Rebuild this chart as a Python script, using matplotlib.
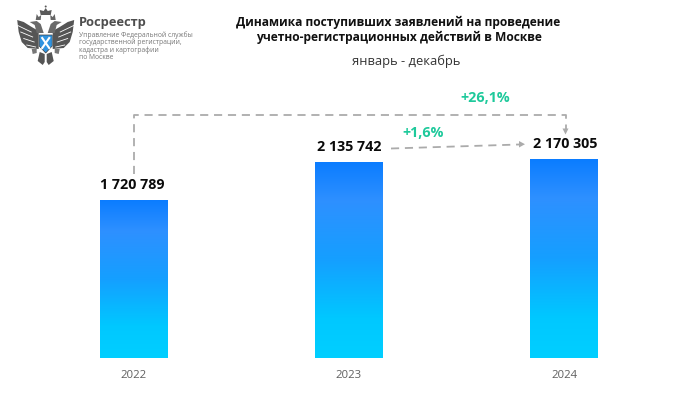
import matplotlib
matplotlib.use('agg')
import matplotlib.pyplot as plt
from matplotlib.colors import LinearSegmentedColormap
from matplotlib.patches import Polygon, Circle
import numpy as np

years = ['2022', '2023', '2024']
values = [1720789, 2135742, 2170305]
value_labels = ['1 720 789', '2 135 742', '2 170 305']
growth_labels = ['+26,1%', '+1,6%']
title_lines = ['Динамика поступивших заявлений на проведение',
               'учетно-регистрационных действий в Москве']
subtitle = 'январь - декабрь'
logo_name = 'Росреестр'
logo_lines = ['Управление Федеральной службы', 'государственной регистрации,',
              'кадастра и картографии', 'по Москве']

W, H = 698, 393
base_px = 358.5
px_per_value = 199.5 / 2170305
bar_pos = [133.5, 349, 564]
bar_w = 67.5

plt.rcParams['font.family'] = ['Open Sans', 'DejaVu Sans']
fig = plt.figure(figsize=(W / 100, H / 100), dpi=100, facecolor='white')

ax = fig.add_axes([0, (H - base_px) / H, 1, base_px / H])
ax.axis('off')

cmap = LinearSegmentedColormap.from_list('bars', [(0, '#00cfff'), (0.2, '#00c8ff'), (0.5, '#159fff'),
                                                  (0.8, '#2e90ff'), (1, '#0a7cff')])
grad = np.linspace(1, 0, 256).reshape(-1, 1)
bars = ax.bar(bar_pos, values, width=bar_w, color='none')
for b, v in zip(bars, values):
    im = ax.imshow(grad, cmap=cmap, aspect='auto', vmin=0, vmax=1, zorder=2,
                   extent=[b.get_x(), b.get_x() + b.get_width(), 0, v])
    im.set_clip_path(b)
ax.set_xlim(0, W)
ax.set_ylim(0, base_px / px_per_value)

# overlay in pixels for text and connectors
ov = fig.add_axes([0, 0, 1, 1], facecolor='none')
ov.set_xlim(0, W)
ov.set_ylim(H, 0)
ov.axis('off')

label_x = [132.5, 349, 565.5]
for x, lx, y, v, lab in zip(bar_pos, label_x, years, values, value_labels):
    top = base_px - v * px_per_value
    ov.text(lx, top - 15.5, lab, ha='center', va='center', fontsize=10.3, fontweight='bold', color='#0b0b0b')
    ov.text(x, 376, y, ha='center', va='center', fontsize=8.2, color='#5f5f5f')

dash = dict(color='#ababab', lw=1.3, dashes=(4.5, 3.2))
ov.plot([bar_pos[0], bar_pos[0], 565.5, 565.5], [174, 115, 115, 129], **dash)
ov.plot([391, 519], [148.5, 144.5], **dash)
ov.add_patch(Polygon([[562.5, 128.5], [568.5, 128.5], [565.5, 134.5]], color='#ababab', lw=0))
ov.add_patch(Polygon([[519, 141], [519, 147.5], [525, 144.2]], color='#ababab', lw=0))
ov.text(485.5, 98, growth_labels[0], ha='center', va='center', fontsize=10.3, fontweight='bold', color='#1ec99b')
ov.text(423, 133, growth_labels[1], ha='center', va='center', fontsize=10.3, fontweight='bold', color='#1ec99b')

ov.text(398.5, 22, title_lines[0], ha='center', va='center', fontsize=8.65, fontweight='bold', color='#111111')
ov.text(398.5, 37, title_lines[1], ha='center', va='center', fontsize=8.65, fontweight='bold', color='#111111')
ov.text(406, 61, subtitle, ha='center', va='center', fontsize=9.3, color='#333333')

# logo
gray = '#555555'
cx = 45.7
for s in (-1, 1):
    # wing
    ov.add_patch(Polygon([[cx + s * 7, 31], [cx + s * 14, 27], [cx + s * 22, 22], [cx + s * 28.5, 20],
                          [cx + s * 27, 32], [cx + s * 24, 42], [cx + s * 18, 48], [cx + s * 7, 49]],
                         color=gray, lw=0))
    for k in range(4):
        ov.plot([cx + s * (10 + k * 1.5), cx + s * (19 + k * 3)], [47 - k * 5, 45 - k * 6.5], color='white', lw=0.6)
    # head and neck
    ov.add_patch(Polygon([[cx + s * 2, 33], [cx + s * 5, 24], [cx + s * 9, 21], [cx + s * 16, 22],
                          [cx + s * 11, 25], [cx + s * 9, 33]], color='#6a6a6a', lw=0))
    # small crown
    ov.add_patch(Polygon([[cx + s * 5, 20], [cx + s * 4.5, 15], [cx + s * 7, 17], [cx + s * 9, 14],
                          [cx + s * 10, 20]], color='#666666', lw=0))
    # tail and legs
    ov.add_patch(Polygon([[cx + s * 1, 54], [cx + s * 6, 52], [cx + s * 8, 61], [cx + s * 3, 65], [cx + s * 1, 62]],
                         color=gray, lw=0))
    ov.add_patch(Polygon([[cx + s * 9, 49], [cx + s * 14, 49], [cx + s * 13, 54], [cx + s * 9, 53]],
                         color='#777777', lw=0))
# big crown
ov.add_patch(Polygon([[cx - 5, 15], [cx - 6, 10], [cx - 2, 11], [cx, 8], [cx + 2, 11], [cx + 6, 10], [cx + 5, 15]],
                     color='#5a5a5a', lw=0))
ov.add_patch(Circle((cx, 6.5), 1, color='#5a5a5a', lw=0))
# shield
ov.add_patch(Polygon([[cx - 6.5, 35], [cx + 6.5, 35], [cx + 6.5, 46], [cx, 53], [cx - 6.5, 46]],
                     color='#2f93e0', ec='#3a3a3a', lw=0.5))
ov.plot([cx - 3.5, cx + 3.5], [38, 48], color='white', lw=1.5)
ov.plot([cx + 3.5, cx - 3.5], [38, 48], color='white', lw=1.5)

ov.text(79, 22.5, logo_name, ha='left', va='center', fontsize=9.3, fontweight='bold', color='#4e4e4e')
for i, line in enumerate(logo_lines):
    ov.text(79, 35 + i * 7.6, line, ha='left', va='center', fontsize=4.9, color='#777777')

fig.savefig('out.png', dpi=100)
